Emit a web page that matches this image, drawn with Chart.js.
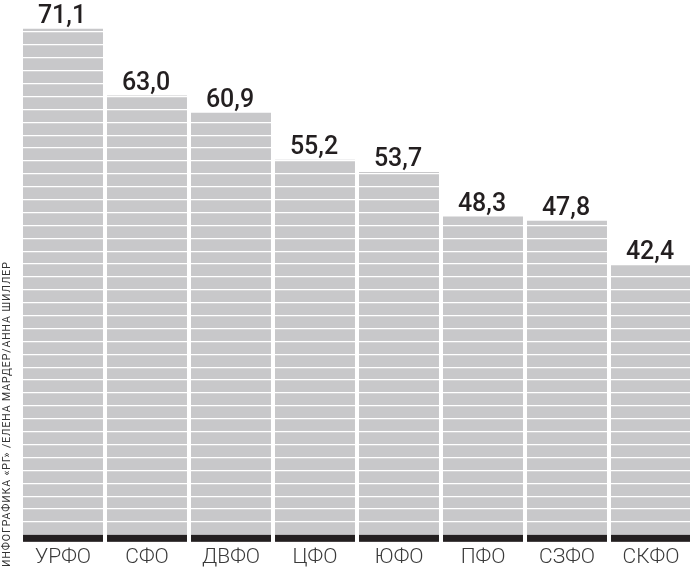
<!DOCTYPE html>
<html lang="ru">
<head>
<meta charset="utf-8">
<title>Федеральные округа</title>
<script src="https://cdn.jsdelivr.net/npm/chart.js@4.4.1/dist/chart.umd.min.js"></script>
<style>
  html, body { margin: 0; padding: 0; background: #fff; overflow: hidden; }
  #wrap { position: relative; width: 694px; height: 573px; }
</style>
</head>
<body>
<div id="wrap"><canvas id="districtChart"></canvas></div>
<script>
// ===== DATA =====
const districts = ['УРФО', 'СФО', 'ДВФО', 'ЦФО', 'ЮФО', 'ПФО', 'СЗФО', 'СКФО'];
const values = [71.1, 63.0, 60.9, 55.2, 53.7, 48.3, 47.8, 42.4];
const credit = 'ИНФОГРАФИКА «РГ» /ЕЛЕНА МАРДЕР/АННА ШИЛЛЕР';

// ===== STYLE =====
const BAR_GREY = '#c8c8ca';
const BAR_BASE = '#231f20';
const Y_MIN = 8.8;      // bottom of the black strip
const Y_BASE = 9.64;    // top of the black strip
const Y_MAX = 74.6;
const STRIPE_STEP = 1.566;

const fmt = v => v.toFixed(1).replace('.', ',');

// black foot under each bar
const barFoot = {
  id: 'barFoot',
  afterDatasetsDraw(chart) {
    const ctx = chart.ctx;
    const top = chart.scales.y.getPixelForValue(Y_BASE);
    ctx.save();
    ctx.fillStyle = BAR_BASE;
    chart.getDatasetMeta(0).data.forEach(bar => {
      ctx.fillRect(bar.x - bar.width / 2, top, bar.width, bar.base - top);
    });
    ctx.restore();
  }
};

// value labels above bars + vertical credit line
const overlay = {
  id: 'overlay',
  afterDraw(chart) {
    const ctx = chart.ctx;
    const meta = chart.getDatasetMeta(0);
    ctx.save();
    ctx.fillStyle = '#231f20';
    ctx.font = "500 25px Roboto";
    ctx.textAlign = 'center';
    ctx.textBaseline = 'alphabetic';
    meta.data.forEach((bar, i) => {
      ctx.fillText(fmt(values[i]), bar.x - 1, bar.y - 6);
    });
    ctx.restore();

    ctx.save();
    ctx.translate(7.5, 567);
    ctx.rotate(-Math.PI / 2);
    ctx.fillStyle = '#333';
    ctx.font = "400 10.5px Roboto";
    ctx.letterSpacing = '0.9px';
    ctx.textAlign = 'left';
    ctx.textBaseline = 'middle';
    ctx.fillText(credit, 0, 0);
    ctx.restore();
  }
};

new Chart(document.getElementById('districtChart'), {
  type: 'bar',
  data: {
    labels: districts,
    datasets: [{
      data: values,
      base: Y_MIN,
      backgroundColor: BAR_GREY,
      borderWidth: 0,
      barPercentage: 0.952,
      categoryPercentage: 1
    }]
  },
  options: {
    responsive: true,
    maintainAspectRatio: false,
    animation: false,
    layout: { padding: { left: 21, right: 1, top: 0, bottom: 0 } },
    scales: {
      x: {
        grid: { display: false, drawTicks: false },
        border: { display: false },
        ticks: {
          color: '#3a3a3a',
          font: { family: 'Roboto', size: 21, weight: 300, lineHeight: 1.2 },
          padding: 3
        }
      },
      y: {
        min: Y_MIN,
        max: Y_MAX,
        grid: { color: '#ffffff', lineWidth: 1.3, drawTicks: false, z: 1 },
        border: { display: false },
        ticks: { display: false },
        afterBuildTicks: scale => {
          const t = [];
          for (let v = Y_BASE + STRIPE_STEP; v < Y_MAX; v += STRIPE_STEP) t.push({ value: v });
          scale.ticks = t;
        }
      }
    },
    plugins: {
      legend: { display: false },
      tooltip: { enabled: false }
    }
  },
  plugins: [barFoot, overlay]
});
</script>
</body>
</html>
